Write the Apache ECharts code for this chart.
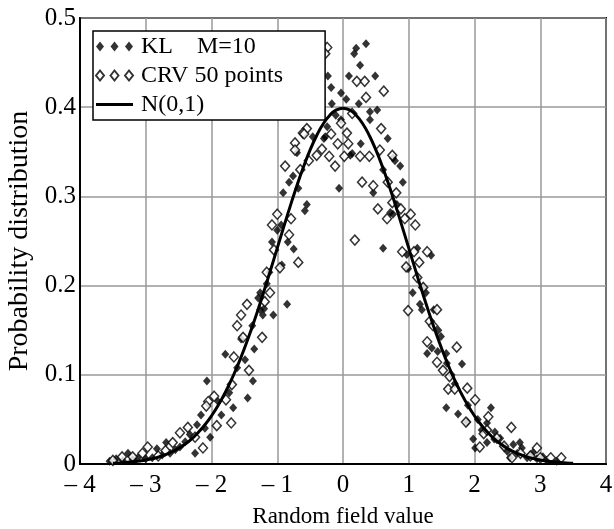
<!DOCTYPE html>
<html><head><meta charset="utf-8">
<script src="https://cdn.jsdelivr.net/npm/echarts@6/dist/echarts.min.js"></script>
<style>html,body{margin:0;padding:0;background:#fff}#c{width:614px;height:529px}</style>
</head><body><div id="c"></div>
<script>
const xTicks = [-4,-3,-2,-1,0,1,2,3,4];
const seriesNames = ['KL\u00a0\u00a0\u00a0\u00a0M=10', 'CRV 50 points', 'N(0,1)'];

const klPoints = [
[0.35,0.471],[0.20,0.466],[0.17,0.460],[0.26,0.447],[-0.35,0.445],[-0.23,0.435],[0.09,0.435],[0.49,0.435],[-0.18,0.422],[-0.03,0.416],[0.05,0.409],[-0.32,0.409],[-0.17,0.404],[0.24,0.404],[-0.11,0.391],[0.41,0.395],[0.52,0.397],[0.41,0.386],[-0.03,0.386],[-0.24,0.378],[-0.29,0.365],[-0.46,0.367],[0.68,0.365],[0.27,0.359],[-0.70,0.349],[0.11,0.346],[0.76,0.343],[-0.27,0.367],
[-0.76,0.323],[-0.82,0.316],[-0.91,0.304],[-0.68,0.309],[-0.06,0.309],[-0.55,0.291],[-0.58,0.284],[-0.94,0.268],[-1.08,0.249],[-0.84,0.249],[-0.75,0.241],[-0.93,0.223],[-1.16,0.202],[-1.26,0.192],[-0.85,0.179],[-1.20,0.174],[-1.06,0.167],[-1.22,0.167],[-1.38,0.155],[-1.29,0.186],[-1.00,0.262],[-1.12,0.215],
[0.14,0.348],[0.61,0.330],[0.87,0.334],[0.79,0.340],[0.91,0.316],[0.46,0.304],[0.82,0.291],[0.76,0.280],[0.61,0.242],[1.13,0.242],[1.34,0.234],[0.97,0.235],[0.99,0.219],[1.06,0.192],[1.26,0.192],[1.17,0.179],[1.20,0.173],[1.38,0.173],[1.22,0.198],[0.72,0.282],
[1.49,0.143],[1.28,0.124],[1.35,0.130],[1.44,0.126],[1.57,0.124],[1.81,0.112],[1.58,0.113],[1.57,0.063],[1.75,0.056],[1.90,0.066],[2.25,0.063],[2.19,0.046],[2.01,0.018],[2.31,0.036],[2.39,0.029],[2.45,0.019],[2.59,0.022],[2.69,0.024],[2.72,0.018],[2.89,0.013],[3.04,0.008],[2.54,0.007],[2.80,0.007],[1.98,0.028],[2.11,0.038],[1.89,0.047],[2.19,0.024],[1.65,0.100],[1.70,0.090],[1.45,0.150],[2.05,0.050],[2.30,0.028],[2.50,0.014],[2.65,0.012],[2.95,0.006],[3.10,0.004],[3.25,0.003],[2.85,0.010],
[-1.35,0.129],[-1.79,0.123],[-1.49,0.117],[-2.07,0.093],[-1.37,0.093],[-1.45,0.074],[-1.67,0.063],[-2.16,0.055],[-1.73,0.080],[-2.02,0.030],[-2.22,0.044],[-2.33,0.033],[-2.25,0.012],[-2.69,0.024],[-2.83,0.017],[-3.27,0.012],[-3.45,0.006],[-2.63,0.012],[-2.48,0.019],[-2.90,0.007],[-3.12,0.007],[-1.61,0.108],[-1.26,0.173],[-1.55,0.140],[-1.90,0.070],[-2.40,0.025],[-2.55,0.016],[-2.75,0.010],[-3.00,0.006],[-3.20,0.005],[-3.35,0.004],[-3.55,0.003],[-2.10,0.040],[-1.85,0.055]
];

const crvPoints = [
[-0.24,0.467],[-0.27,0.460],[0.21,0.429],[0.33,0.429],[0.62,0.418],[0.35,0.411],[0.14,0.393],[-0.03,0.382],[-0.55,0.376],[-0.61,0.371],[-0.18,0.370],[0.06,0.371],[0.58,0.376],[-0.08,0.359],[0.08,0.359],[-0.73,0.360],[-0.73,0.352],[-0.32,0.353],[-0.40,0.346],[0.02,0.345],[0.26,0.345],[0.40,0.345],[0.56,0.352],[0.75,0.346],[-0.59,0.370],[-0.88,0.334],[-0.52,0.340],[-0.21,0.345],[-0.12,0.334],[0.18,0.251],
[-0.65,0.330],[-1.00,0.280],[-1.08,0.268],[-0.79,0.275],[-0.82,0.257],[-1.05,0.240],[-0.68,0.226],[-0.96,0.220],[-1.16,0.215],[-1.11,0.192],[-1.19,0.182],[-1.46,0.179],[-1.55,0.167],[-1.61,0.155],
[0.29,0.316],[0.46,0.312],[0.68,0.316],[0.81,0.304],[0.75,0.293],[0.88,0.286],[0.53,0.286],[0.67,0.275],[0.94,0.275],[1.03,0.280],[1.10,0.268],[0.90,0.238],[1.08,0.238],[1.28,0.238],[1.16,0.226],[0.96,0.221],[1.13,0.209],[1.22,0.198],[0.99,0.172],[1.43,0.173],[1.32,0.160],[1.37,0.155],
[1.28,0.137],[1.73,0.131],[1.43,0.114],[1.60,0.084],[1.70,0.084],[1.89,0.085],[2.01,0.072],[1.87,0.047],[2.14,0.034],[2.21,0.053],[2.56,0.041],[2.34,0.029],[2.95,0.018],[2.57,0.007],[3.00,0.007],[3.16,0.007],[3.32,0.007],[2.19,0.038],[2.08,0.019],[1.52,0.105],[1.62,0.098],[2.45,0.020],[2.70,0.012],[2.85,0.009],
[-1.52,0.142],[-1.23,0.142],[-1.66,0.120],[-1.43,0.105],[-1.69,0.089],[-1.96,0.076],[-2.05,0.070],[-2.08,0.065],[-1.78,0.072],[-1.70,0.046],[-1.92,0.043],[-2.36,0.041],[-2.48,0.035],[-2.13,0.018],[-2.97,0.019],[-3.36,0.008],[-2.59,0.024],[-2.81,0.009],[-3.05,0.012],[-3.20,0.008],[-2.70,0.015],[-2.25,0.030],[-3.50,0.004]
];

const normX = [-3.5,-3.4,-3.3,-3.2,-3.1,-3.0,-2.9,-2.8,-2.7,-2.6,-2.5,-2.4,-2.3,-2.2,-2.1,-2.0,-1.9,-1.8,-1.7,-1.6,-1.5,-1.4,-1.3,-1.2,-1.1,-1.0,-0.9,-0.8,-0.7,-0.6,-0.5,-0.4,-0.3,-0.2,-0.1,0.0,0.1,0.2,0.3,0.4,0.5,0.6,0.7,0.8,0.9,1.0,1.1,1.2,1.3,1.4,1.5,1.6,1.7,1.8,1.9,2.0,2.1,2.2,2.3,2.4,2.5,2.6,2.7,2.8,2.9,3.0,3.1,3.2,3.3,3.4,3.5];
const normY = [0.0009,0.0012,0.0017,0.0024,0.0033,0.0044,0.0060,0.0079,0.0104,0.0136,0.0175,0.0224,0.0283,0.0355,0.0440,0.0540,0.0656,0.0790,0.0940,0.1109,0.1295,0.1497,0.1714,0.1942,0.2179,0.2420,0.2661,0.2897,0.3123,0.3332,0.3521,0.3683,0.3814,0.3910,0.3970,0.3989,0.3970,0.3910,0.3814,0.3683,0.3521,0.3332,0.3123,0.2897,0.2661,0.2420,0.2179,0.1942,0.1714,0.1497,0.1295,0.1109,0.0940,0.0790,0.0656,0.0540,0.0440,0.0355,0.0283,0.0224,0.0175,0.0136,0.0104,0.0079,0.0060,0.0044,0.0033,0.0024,0.0017,0.0012,0.0009];

const FONT = '"Liberation Serif","Times New Roman",serif';
const threeDiamonds = 'path://M0,5L4,0L8,5L4,10ZM14.5,5L18.5,0L22.5,5L18.5,10ZM29,5L33,0L37,5L33,10Z';
const lineIcon = 'path://M0,0L0.01,0L0,0.01ZM0,3.6L37,3.6L37,6.4L0,6.4ZM37,10L36.99,10L37,9.99Z';

const chart = echarts.init(document.getElementById('c'), null, {renderer:'canvas'});
chart.setOption({
  animation:false,
  backgroundColor:'#fff',
  grid:{left:80, top:18, right:8, bottom:65, show:true, borderColor:'#000', borderWidth:2,
        backgroundColor:'transparent', containLabel:false, outerBoundsMode:'none'},
  legend:{
    orient:'vertical', left:93, top:31,
    padding:[2,42,2,2], itemGap:2, itemWidth:37, itemHeight:10,
    backgroundColor:'#fff', borderColor:'#000', borderWidth:1.5,
    textStyle:{fontFamily:FONT, fontSize:24, color:'#000', lineHeight:27, padding:[0,0,0,3]},
    data:[
      {name:seriesNames[0], icon:threeDiamonds},
      {name:seriesNames[1], icon:threeDiamonds},
      {name:seriesNames[2], icon:lineIcon, itemStyle:{color:'#000', borderWidth:0}}
    ]
  },
  xAxis:{
    type:'value', min:-4, max:4, interval:1,
    name:'Random field value', nameLocation:'middle', nameGap:41,
    nameTextStyle:{fontFamily:FONT, fontSize:23, color:'#000'},
    axisLine:{show:true, onZero:false, lineStyle:{color:'#000', width:2}},
    axisTick:{show:false},
    axisLabel:{fontFamily:FONT, fontSize:25, color:'#000', margin:9,
      formatter:v=> v<0 ? '\u2013 '+Math.abs(v) : String(v)},
    splitLine:{show:true, lineStyle:{color:'#999', width:1.5}}
  },
  yAxis:{
    type:'value', min:0, max:0.5, interval:0.1,
    name:'Probability distribution', nameLocation:'middle', nameGap:45,
    nameTextStyle:{fontFamily:FONT, fontSize:28, color:'#000'},
    axisLine:{show:true, onZero:false, lineStyle:{color:'#000', width:2}},
    axisTick:{show:false},
    axisLabel:{fontFamily:FONT, fontSize:25, color:'#000', margin:4,
      formatter:v=> v===0 ? '0' : v.toFixed(1)},
    splitLine:{show:true, lineStyle:{color:'#999', width:1.5}}
  },
  series:[
    {name:seriesNames[0], type:'scatter', data:klPoints, symbol:'diamond', symbolSize:[8,9],
     itemStyle:{color:'#000'}, z:3},
    {name:seriesNames[1], type:'scatter', data:crvPoints, symbol:'diamond', symbolSize:[9,10],
     itemStyle:{color:'#fff', borderColor:'#000', borderWidth:1.5}, z:3},
    {name:seriesNames[2], type:'line', data:normX.map((x,i)=>[x,normY[i]]), symbol:'none', smooth:true,
     lineStyle:{color:'#000', width:3}, itemStyle:{color:'#000'}, z:4}
  ]
});
</script></body></html>
